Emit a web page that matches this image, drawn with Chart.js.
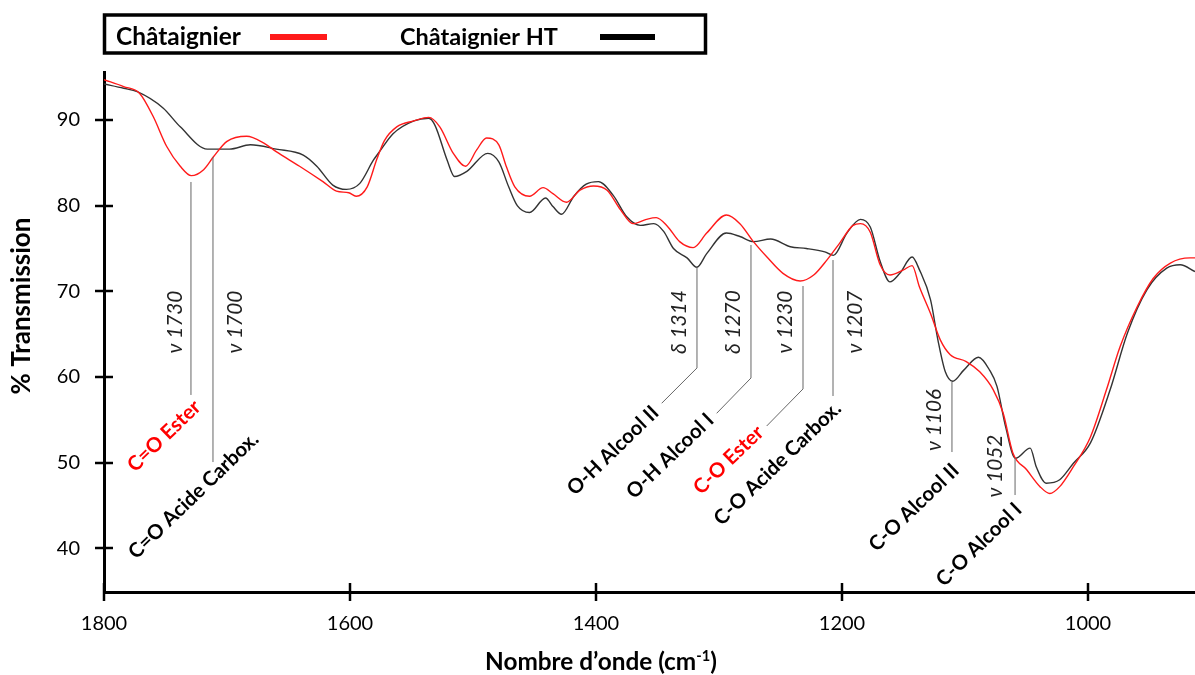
<!DOCTYPE html>
<html>
<head>
<meta charset="utf-8">
<script src="https://cdn.jsdelivr.net/npm/chart.js@4.4.1/dist/chart.umd.min.js"></script>
<style>
html,body{margin:0;padding:0;background:#fff;}
#wrap{width:1195px;height:675px;position:relative;}
</style>
</head>
<body>
<div id="wrap"><canvas id="c" width="1195" height="675"></canvas></div>
<script>
// ---------- DATA ----------
const seriesNames = ['Châtaignier', 'Châtaignier HT'];
const xTickValues = [1800, 1600, 1400, 1200, 1000];
const yTickValues = [40, 50, 60, 70, 80, 90];

const redWavenumber = [1800,1784,1771,1760,1749,1738,1729,1719,1711,1700,1684,1670,1660,1641,1622,1611,1601,1595,1586,1578,1572,1562,1548,1536,1527,1516,1506,1497,1489,1479,1473,1466,1454,1443,1435,1424,1413,1402,1391,1380,1370,1359,1351,1342,1332,1321,1310,1294,1283,1272,1261,1248,1234,1223,1212,1202,1191,1185,1177,1169,1161,1150,1143,1137,1128,1120,1112,1099,1088,1077,1069,1061,1050,1039,1031,1023,1012,998,985,974,960,947,933,917,913];
const redTransmission = [94.7,93.9,93.1,90.4,86.9,84.6,83.5,84.2,85.7,87.5,88.1,87.3,86.3,84.6,82.8,81.7,81.5,81.1,82.2,85.5,87.6,89.2,89.9,90.3,89.2,86.1,84.6,86.5,87.9,87.1,84.6,82.2,81.1,82.1,81.4,80.4,81.8,82.3,81.8,79.5,77.9,78.4,78.6,77.6,75.8,75.1,76.8,78.9,77.9,75.8,74.0,72.1,71.2,71.9,73.7,75.6,77.7,77.9,76.9,73.1,71.9,72.5,73.0,70.5,67.4,64.3,62.6,61.8,60.6,58.5,55.8,51.1,49.2,47.2,46.4,47.2,49.5,53.0,58.5,63.5,68.2,71.5,73.3,73.9,73.9];

const blackWavenumber = [1800,1784,1773,1752,1738,1716,1698,1681,1660,1638,1627,1614,1603,1592,1581,1576,1565,1548,1536,1531,1521,1515,1505,1488,1479,1471,1464,1454,1441,1435,1428,1418,1408,1398,1386,1375,1364,1353,1345,1337,1326,1318,1310,1294,1283,1272,1258,1242,1229,1214,1207,1196,1185,1177,1169,1161,1153,1143,1137,1128,1122,1116,1110,1101,1089,1080,1074,1067,1059,1047,1042,1034,1023,1012,998,982,968,952,936,925,913];
const blackTransmission = [94.2,93.7,93.3,91.4,89.2,86.6,86.6,87.1,86.6,85.9,84.6,82.4,81.9,82.6,85.3,86.3,88.4,89.9,90.2,89.4,85.3,83.4,84.0,86.1,85.1,82.2,80.0,79.2,80.9,79.9,79.0,81.1,82.5,82.8,81.2,78.7,77.7,77.9,77.0,75.0,73.9,72.8,74.4,76.8,76.4,75.8,76.1,75.2,75.0,74.6,74.2,76.8,78.4,77.5,73.5,71.1,72.1,74.0,72.5,69.0,64.3,60.6,59.5,60.8,62.3,60.8,58.9,54.2,50.5,51.7,49.5,47.6,48.0,49.9,52.3,58.5,65.1,70.2,72.7,73.1,72.3];

// Annotation texts
const peakLabels = ['ν 1730','ν 1700','δ 1314','δ 1270','ν 1230','ν 1207','ν 1106','ν 1052'];
const groupLabels = ['C=O Ester','C=O Acide Carbox.','O-H Alcool II','O-H Alcool I','C-O Ester','C-O Acide Carbox.','C-O Alcool II','C-O Alcool I'];
const groupIsEster = [true,false,false,false,true,false,false,false];

// Annotation placement (data units: wavenumber, % transmission)
const annotLayout = [
 {lineX:1729.3, top:82.76, bottom:57.9, leader:null, peakAt:[1742.3,66.4], groupAt:[1751.2,53.11]},
 {lineX:1711.4, top:85.68, bottom:50.07, leader:null, peakAt:[1693.5,66.4], groupAt:[1727.2,46.16]},
 {lineX:1317.9, top:72.84, bottom:61.05, leader:[1346.6,56.93], peakAt:[1332.5,66.4], groupAt:[1386.2,51.42]},
 {lineX:1274.0, top:75.41, bottom:59.88, leader:[1301.9,55.76], peakAt:[1288.6,66.4], groupAt:[1339.8,50.78]},
 {lineX:1231.7, top:70.62, bottom:58.6, leader:[1261.2,54.28], peakAt:[1246.3,66.4], groupAt:[1292.3,50.31]},
 {lineX:1207.3, top:73.65, bottom:57.78, leader:null, peakAt:[1189.4,66.4], groupAt:[1252.4,49.90]},
 {lineX:1110.6, top:59.41, bottom:51.24, leader:null, peakAt:[1125.2,54.98], groupAt:[1141.5,44.76]},
 {lineX:1059.3, top:50.54, bottom:46.22, leader:null, peakAt:[1075.6,49.6], groupAt:[1088.6,40.44]}
];

// ---------- HELPERS ----------
function pts(xs, ys){ return xs.map((x,i)=>({x:x, y:ys[i]})); }
function fitSize(ctx, text, width, style, family){
  ctx.font = style + ' 100px ' + family;
  return 100 * width / ctx.measureText(text).width;
}
const FAM = 'Lato, "Open Sans", "DejaVu Sans", sans-serif';

const overlay = {
  id:'overlay',
  afterDraw(chart){
    const ctx = chart.ctx, xs = chart.scales.x, ys = chart.scales.y, ca = chart.chartArea;
    ctx.save();
    // crossing tick marks
    ctx.strokeStyle = '#000'; ctx.lineWidth = 2.5;
    xs.ticks.forEach(t=>{
      const px = Math.round(xs.getPixelForValue(t.value));
      ctx.beginPath(); ctx.moveTo(px, ca.bottom-9); ctx.lineTo(px, ca.bottom+9); ctx.stroke();
    });
    ys.ticks.forEach(t=>{
      const py = Math.round(ys.getPixelForValue(t.value));
      ctx.beginPath(); ctx.moveTo(ca.left-9, py); ctx.lineTo(ca.left+9, py); ctx.stroke();
    });

    // annotation lines
    ctx.strokeStyle = '#666'; ctx.lineWidth = 1;
    annotLayout.forEach(a=>{
      const px = xs.getPixelForValue(a.lineX);
      const yt = ys.getPixelForValue(a.top), yb = ys.getPixelForValue(a.bottom);
      ctx.beginPath(); ctx.moveTo(px, yt); ctx.lineTo(px, yb);
      if (a.leader){ ctx.lineTo(xs.getPixelForValue(a.leader[0]), ys.getPixelForValue(a.leader[1])); }
      ctx.stroke();
    });

    // peak labels (rotated -90)
    const pSize = fitSize(ctx, 'ν 1730', 63, 'italic', FAM);
    ctx.font = 'italic ' + pSize + 'px ' + FAM;
    ctx.fillStyle = '#222'; ctx.textAlign = 'center'; ctx.textBaseline = 'middle';
    annotLayout.forEach((a,i)=>{
      ctx.save();
      ctx.translate(xs.getPixelForValue(a.peakAt[0]), ys.getPixelForValue(a.peakAt[1]));
      ctx.rotate(-Math.PI/2);
      ctx.fillText(peakLabels[i], 0, 0);
      ctx.restore();
    });

    // group labels (rotated ~-44deg)
    const gSize = (fitSize(ctx,'C-O Acide Carbox.',172,'bold',FAM) + fitSize(ctx,'O-H Alcool II',120,'bold',FAM) + fitSize(ctx,'C-O Alcool I',106,'bold',FAM))/3;
    ctx.font = 'bold ' + gSize + 'px ' + FAM;
    ctx.textAlign = 'center'; ctx.textBaseline = 'middle';
    annotLayout.forEach((a,i)=>{
      ctx.save();
      ctx.translate(xs.getPixelForValue(a.groupAt[0]), ys.getPixelForValue(a.groupAt[1]));
      ctx.rotate(-44*Math.PI/180);
      ctx.fillStyle = groupIsEster[i] ? '#ff0000' : '#000';
      ctx.fillText(groupLabels[i], 0, 0);
      ctx.restore();
    });

    // Y axis title
    const ySize = fitSize(ctx, '% Transmission', 177, 'bold', FAM);
    ctx.font = 'bold ' + ySize + 'px ' + FAM;
    ctx.fillStyle = '#000';
    ctx.save(); ctx.translate(22, 306); ctx.rotate(-Math.PI/2);
    ctx.textAlign='center'; ctx.textBaseline='middle';
    ctx.fillText('% Transmission', 0, 0);
    ctx.restore();

    // X axis title with superscript
    const main = 'Nombre d’onde (cm', sup = '-1', tail = ')';
    ctx.font = 'bold 100px ' + FAM;
    const w1 = ctx.measureText(main).width, w3 = ctx.measureText(tail).width;
    ctx.font = 'bold 60px ' + FAM;
    const w2 = ctx.measureText(sup).width;
    const k = 232 / (w1 + w2 + w3);
    const size = 100*k;
    let x0 = 601 - 232/2;
    ctx.textAlign='left'; ctx.textBaseline='alphabetic';
    ctx.font = 'bold ' + size + 'px ' + FAM;
    ctx.fillText(main, x0, 670); x0 += w1*k;
    ctx.font = 'bold ' + (size*0.6) + 'px ' + FAM;
    ctx.fillText(sup, x0, 670 - size*0.38); x0 += w2*k;
    ctx.font = 'bold ' + size + 'px ' + FAM;
    ctx.fillText(tail, x0, 670);

    // Legend box
    ctx.strokeStyle = '#000'; ctx.lineWidth = 3.5;
    ctx.strokeRect(104.5, 15, 601, 38);
    const ds = chart.data.datasets;
    const l1 = fitSize(ctx, ds[0].label, 125, 'bold', FAM);
    ctx.font = 'bold ' + l1 + 'px ' + FAM; ctx.fillStyle='#000';
    ctx.fillText(ds[0].label, 116, 45);
    ctx.fillStyle = ds[0].borderColor; ctx.fillRect(270, 34, 57, 6);
    const l2 = fitSize(ctx, ds[1].label, 158, 'bold', FAM);
    ctx.font = 'bold ' + l2 + 'px ' + FAM; ctx.fillStyle='#000';
    ctx.fillText(ds[1].label, 400, 45);
    ctx.fillStyle = '#000'; ctx.fillRect(600, 34, 55, 6);
    ctx.restore();
  }
};

new Chart(document.getElementById('c'), {
  type:'line',
  data:{
    datasets:[
      {label:seriesNames[0], data:pts(redWavenumber, redTransmission), borderColor:'#ff1a1a', borderWidth:1.4, pointRadius:0, cubicInterpolationMode:'monotone', order:1},
      {label:seriesNames[1], data:pts(blackWavenumber, blackTransmission), borderColor:'#333333', borderWidth:1.4, pointRadius:0, cubicInterpolationMode:'monotone', order:2}
    ]
  },
  options:{
    responsive:false, animation:false, devicePixelRatio:1,
    layout:{padding:{top:72, left:0, right:0, bottom:0}},
    plugins:{legend:{display:false}, tooltip:{enabled:false}},
    scales:{
      x:{type:'linear', min:913, max:1800, reverse:true,
         afterBuildTicks(s){ s.ticks = xTickValues.map(v=>({value:v})); },
         afterFit(s){ s.height = 83; },
         grid:{display:false, drawTicks:false},
         border:{display:true, color:'#000', width:3},
         ticks:{color:'#000', font:{family:FAM, size:20}, padding:20, maxRotation:0, autoSkip:false,
                callback:(v)=>String(v)}
      },
      y:{type:'linear', min:34.9, max:95.6,
         afterBuildTicks(s){ s.ticks = yTickValues.map(v=>({value:v})); },
         afterFit(s){ s.width = 104; },
         grid:{display:false, drawTicks:false},
         border:{display:true, color:'#000', width:3},
         ticks:{color:'#000', font:{family:FAM, size:20}, padding:24, callback:(v)=>String(v)}
      }
    }
  },
  plugins:[overlay]
});
</script>
</body>
</html>
